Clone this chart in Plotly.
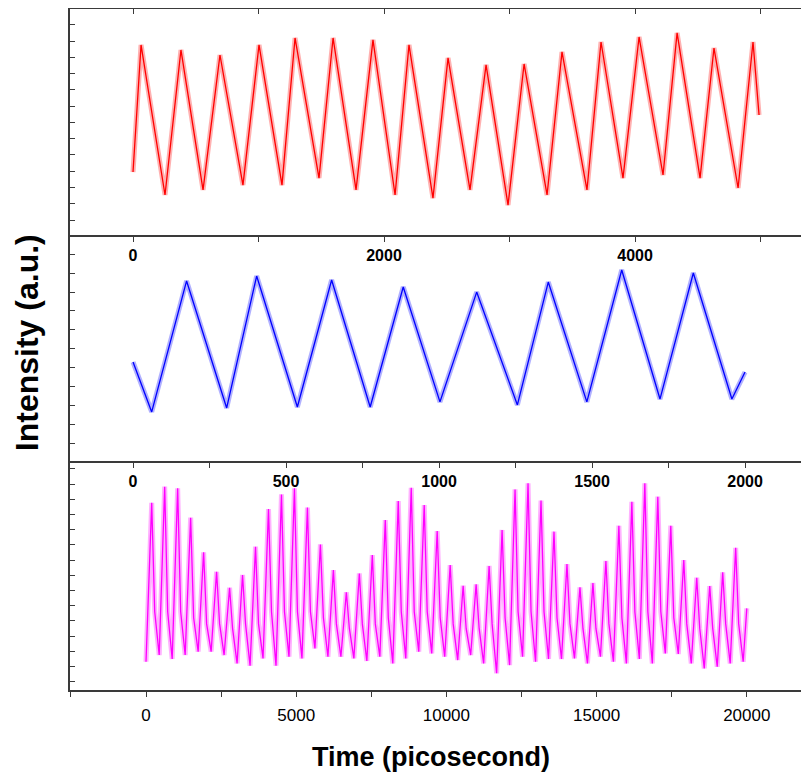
import plotly.graph_objects as go

# ---- top panel (red), time in ps ----
red_peak_t = [64, 382, 693, 1004, 1291, 1594, 1912, 2199, 2510, 2813, 3116, 3418, 3729, 4032, 4335, 4629, 4940]
red_peak_v = [11.77, 11.46, 11.15, 11.77, 12.2, 12.2, 12.08, 11.77, 10.97, 10.54, 10.6, 11.34, 11.95, 12.26, 12.51, 11.58, 11.95]
red_trough_t = [0, 255, 558, 876, 1187, 1482, 1777, 2088, 2390, 2685, 2988, 3299, 3617, 3904, 4223, 4518, 4821, 4988]
red_trough_v = [3.95, 2.54, 2.85, 3.15, 3.15, 3.58, 2.85, 2.54, 2.35, 2.85, 1.92, 2.54, 2.85, 3.58, 3.77, 3.58, 2.97, 7.46]

# ---- middle panel (blue) ----
blue_peak_t = [175, 404, 649, 883, 1123, 1357, 1597, 1831]
blue_peak_v = [9.59, 9.85, 9.64, 9.27, 9.0, 9.53, 10.17, 10.01]
blue_trough_t = [0, 61, 306, 537, 775, 1003, 1256, 1483, 1722, 1957, 2000]
blue_trough_v = [5.30, 2.66, 2.87, 2.92, 2.92, 3.19, 3.03, 3.19, 3.34, 3.34, 4.77]

# ---- bottom panel (magenta) ----
mag_peak_t = [190, 622, 1054, 1486, 1918, 2350, 2782, 3214, 3646, 4078, 4510, 4942,
              5374, 5806, 6238, 6670, 7102, 7534, 7966, 8398, 8830, 9262, 9694,
              10126, 10558, 10990, 11422, 11854, 12286, 12718, 13150, 13582, 14014,
              14446, 14878, 15310, 15742, 16174, 16606, 17038, 17470, 17902, 18334,
              18766, 19198, 19630]
mag_peak_v = [12.77, 13.83, 13.72, 11.79, 9.51, 8.23, 7.18, 8.02, 9.88, 12.36, 13.32, 13.72,
              12.45, 10.03, 8.34, 6.88, 8.12, 9.33, 11.63, 12.88, 13.76, 12.62, 10.91,
              8.67, 7.31, 7.40, 8.61, 10.98, 13.65, 14.05, 12.91, 10.87, 8.74,
              7.20, 7.49, 8.94, 11.26, 12.84, 14.05, 13.17, 11.26, 9.00, 7.84,
              7.29, 8.19, 9.81]
mag_shoulder_t = [290, 722, 1154, 1586, 2018, 2450, 2882, 3314, 3746, 4178, 4610, 5042,
                  5474, 5906, 6338, 6770, 7202, 7634, 8066, 8498, 8930, 9362, 9794,
                  10226, 10658, 11090, 11522, 11954, 12386, 12818, 13250, 13682, 14114,
                  14546, 14978, 15410, 15842, 16274, 16706, 17138, 17570, 18002, 18434,
                  18866, 19298, 19730]
mag_shoulder_v = [5.6, 5.6, 5.6, 5.2, 4.8, 4.8, 4.5, 4.8, 4.8, 5.6, 5.6, 5.6,
                  5.6, 5.2, 4.8, 4.5, 4.8, 4.8, 5.2, 5.6, 5.6, 5.6, 5.2,
                  4.8, 4.5, 4.5, 4.8, 5.2, 5.6, 5.6, 5.6, 5.2, 4.8,
                  4.5, 4.5, 4.8, 5.2, 5.6, 5.6, 5.6, 5.2, 4.8, 4.5,
                  4.5, 4.8, 4.8]
mag_trough_t = [0, 440, 872, 1304, 1736, 2168, 2600, 3032, 3464, 3896, 4328, 4760, 5192,
                5624, 6056, 6488, 6920, 7352, 7784, 8216, 8648, 9080, 9512, 9944,
                10376, 10808, 11240, 11672, 12104, 12536, 12968, 13400, 13832, 14264,
                14696, 15128, 15560, 15992, 16424, 16856, 17288, 17720, 18152, 18584,
                19016, 19448, 19880, 20000]
mag_trough_v = [2.31, 2.75, 2.49, 2.75, 2.97, 2.97, 2.75, 2.20, 2.05, 2.53, 2.05, 2.64, 2.53,
                3.19, 2.64, 2.64, 2.53, 2.36, 2.64, 2.20, 2.53, 2.97, 2.86, 2.64,
                2.42, 2.75, 2.20, 1.55, 2.09, 2.64, 2.31, 2.49, 2.49, 2.53,
                2.20, 2.64, 2.31, 2.20, 2.49, 2.20, 2.86, 2.82, 2.20, 1.87,
                1.98, 2.20, 2.31, 5.82]

AX = "#3a3a3a"
FONT = "Liberation Sans, Arial, sans-serif"


def merge(*pairs):
    pts = []
    for t, v in pairs:
        pts += list(zip(t, v))
    pts.sort()
    return [p[0] for p in pts], [p[1] for p in pts]


fig = go.Figure()


def add_signal(t, v, color, xa, ya):
    # soft wide underlay to mimic the noisy band, then the thin trace
    fig.add_trace(go.Scatter(x=t, y=v, mode="lines", xaxis=xa, yaxis=ya,
                             line=dict(color=color, width=5), opacity=0.3,
                             hoverinfo="skip"))
    fig.add_trace(go.Scatter(x=t, y=v, mode="lines", xaxis=xa, yaxis=ya,
                             line=dict(color=color, width=1.3)))


rt, rv = merge((red_peak_t, red_peak_v), (red_trough_t, red_trough_v))
bt, bv = merge((blue_peak_t, blue_peak_v), (blue_trough_t, blue_trough_v))
mt, mv = merge((mag_peak_t, mag_peak_v), (mag_shoulder_t, mag_shoulder_v),
               (mag_trough_t, mag_trough_v))

add_signal(rt, rv, "#ff0000", "x", "y")
add_signal(bt, bv, "#0000ff", "x2", "y2")
add_signal(mt, mv, "#ff00ff", "x3", "y3")
# empty trace so the inward top ticks of the first panel get drawn
fig.add_trace(go.Scatter(x=[], y=[], xaxis="x4", yaxis="y"))

line = dict(showline=True, linecolor=AX, linewidth=1.6, showgrid=False, zeroline=False)
xt = dict(ticks="outside", ticklen=5, tickwidth=1.4, tickcolor=AX)
bold = dict(family=FONT, size=16, color="black", weight="bold")
yax = dict(ticks="inside", ticklen=5, tickwidth=1.3, tickcolor=AX, showticklabels=False,
           dtick=1, tick0=0, **line)

# page body adds 8px, so the figure is 8px smaller and shifted
fig.update_layout(
    width=801, height=767,
    margin=dict(l=62, r=0, t=1, b=85),
    paper_bgcolor="white", plot_bgcolor="white",
    showlegend=False,
    xaxis=dict(anchor="y", domain=[0, 1], range=[-502, 5386], tick0=0, dtick=2000,
               mirror=True, tickfont=bold,
               minor=dict(dtick=1000, ticks="outside", ticklen=5, tickwidth=1.4, tickcolor=AX),
               **xt, **line),
    xaxis4=dict(anchor="y", overlaying="x", side="top", range=[-502, 5386], tick0=0,
                dtick=1000, ticks="inside", ticklen=5, tickwidth=1.4, tickcolor=AX,
                showticklabels=False, showline=False, showgrid=False, zeroline=False),
    xaxis2=dict(anchor="y2", domain=[0, 1], range=[-206, 2209], tick0=0, dtick=500,
                tickfont=bold,
                minor=dict(dtick=250, ticks="outside", ticklen=5, tickwidth=1.4, tickcolor=AX),
                **xt, **line),
    xaxis3=dict(anchor="y3", domain=[0, 1], range=[-2530, 22071], tick0=0, dtick=5000,
                tickformat="d", ticklabelstandoff=4,
                tickfont=dict(family=FONT, size=17, color="black"),
                minor=dict(dtick=2500, ticks="outside", ticklen=5, tickwidth=1.4, tickcolor=AX),
                **xt, **line),
    yaxis=dict(domain=[0.6681, 1], range=[0.077, 13.98], anchor="x", **yax),
    yaxis2=dict(domain=[0.3363, 0.6681], range=[0.063, 12.02], anchor="x2", **yax),
    yaxis3=dict(domain=[0, 0.3363], range=[0.45, 15.52], anchor="x3", **yax),
)

fig.add_annotation(text="Time (picosecond)", xref="paper", yref="paper",
                   x=0.4885, y=-0.098, xanchor="center", yanchor="middle", showarrow=False,
                   font=dict(family=FONT, size=27, color="black", weight="bold"))
fig.add_annotation(text="Intensity (a.u.)", xref="paper", yref="paper",
                   x=-0.058, y=0.5095, xanchor="center", yanchor="middle", showarrow=False,
                   textangle=-90,
                   font=dict(family=FONT, size=32, color="black", weight="bold"))

fig.write_html("out.html")
